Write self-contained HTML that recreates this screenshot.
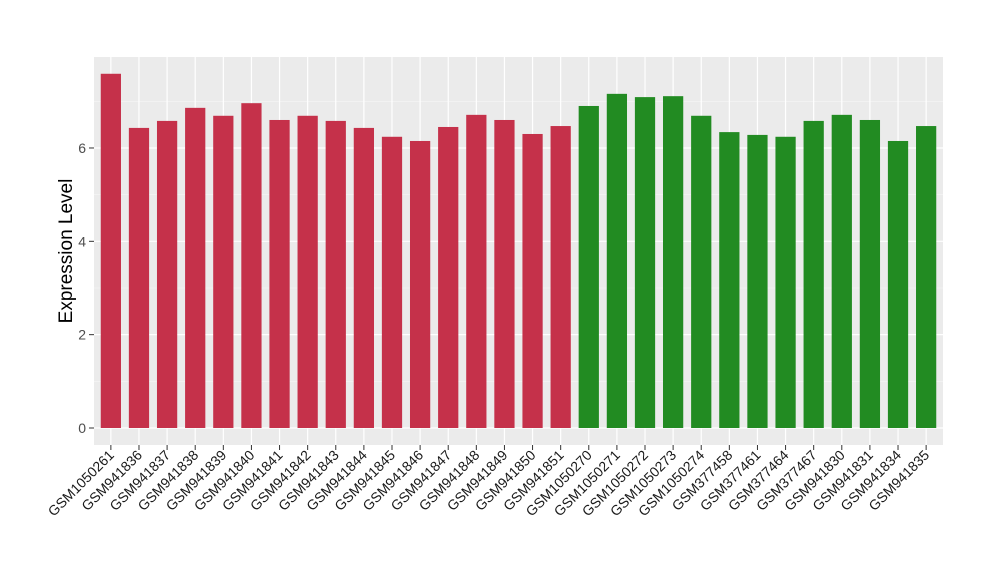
<!DOCTYPE html>
<html><head><meta charset="utf-8"><style>
body{margin:0;background:#fff;font-family:"Liberation Sans",sans-serif}
</style></head><body>
<svg id="chart" width="1000" height="580" xmlns="http://www.w3.org/2000/svg">
<rect x="94" y="57" width="849" height="388" fill="#EBEBEB"/>
<g id="grid"></g><g id="bars"></g><g id="yaxis"></g><g id="xaxis"></g>
<text transform="translate(72,251) rotate(-90)" text-anchor="middle" font-size="19" fill="#000">Expression Level</text>
</svg>
<script>
const categories=["GSM1050261","GSM941836","GSM941837","GSM941838","GSM941839","GSM941840","GSM941841","GSM941842","GSM941843","GSM941844","GSM941845","GSM941846","GSM941847","GSM941848","GSM941849","GSM941850","GSM941851","GSM1050270","GSM1050271","GSM1050272","GSM1050273","GSM1050274","GSM377458","GSM377461","GSM377464","GSM377467","GSM941830","GSM941831","GSM941834","GSM941835"];
const values=[7.59,6.43,6.58,6.86,6.69,6.96,6.60,6.69,6.58,6.43,6.24,6.15,6.45,6.71,6.60,6.30,6.47,6.90,7.16,7.09,7.11,6.69,6.34,6.28,6.24,6.58,6.71,6.60,6.15,6.47];
const groups=["a","a","a","a","a","a","a","a","a","a","a","a","a","a","a","a","a","b","b","b","b","b","b","b","b","b","b","b","b","b"];
const yTicks=[0,2,4,6];
const NS="http://www.w3.org/2000/svg";
const px0=94,pw=849,y0=428,ppu=46.67;
const unit=pw/(categories.length+0.2);
const xs=i=>px0+(i+0.6)*unit;
const ys=v=>y0-v*ppu;
function mk(t,a,p){const e=document.createElementNS(NS,t);for(const k in a)e.setAttribute(k,a[k]);p.appendChild(e);return e;}
const grid=document.getElementById('grid'),bars=document.getElementById('bars'),ya=document.getElementById('yaxis'),xa=document.getElementById('xaxis');
for(let v=1;v<8;v+=2){const g=mk('line',{x1:94,x2:943,y1:ys(v),y2:ys(v),stroke:'#F5F5F5','stroke-width':0.6},grid);

}
yTicks.forEach(v=>{const g=mk('line',{x1:94,x2:943,y1:ys(v),y2:ys(v),stroke:'#fff','stroke-width':1.2},grid);


const tk=mk('line',{x1:89,x2:94,y1:ys(v),y2:ys(v),stroke:'#333'},ya);


const t=mk('text',{x:86,y:ys(v)+5,'text-anchor':'end','font-size':14,fill:'#4D4D4D'},ya);t.textContent=v;

});
categories.forEach((c,i)=>{const x=xs(i);
const g=mk('line',{x1:x,x2:x,y1:57,y2:445,stroke:'#fff','stroke-width':1.2},grid);


const bw=unit*0.72;
const b=mk('rect',{x:x-bw/2,y:ys(values[i]),width:bw,height:values[i]*ppu,fill:groups[i]==='a'?'#C5314A':'#228B22'},bars);


const tk=mk('line',{x1:x,x2:x,y1:445,y2:450,stroke:'#333'},xa);


const t=mk('text',{x:x+4,y:456,'text-anchor':'end','font-size':14,fill:'#1A1A1A',transform:`rotate(-45 ${x+4} 456)`},xa);t.textContent=c;

});
</script>
</body></html>
